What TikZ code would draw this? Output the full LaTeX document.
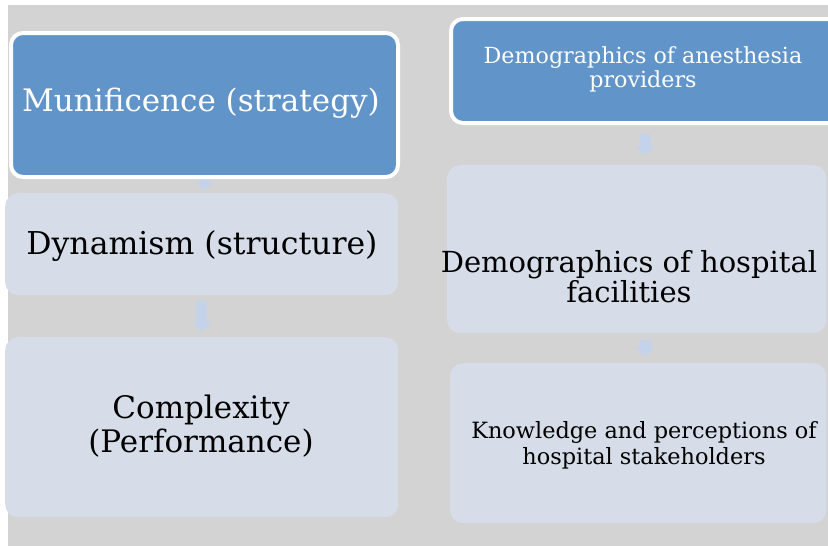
\documentclass[tikz,border=0pt]{standalone}
\usepackage{fontspec}
\setmainfont{DejaVu Serif}
\usetikzlibrary{arrows.meta}
\definecolor{bgc}{HTML}{D3D3D3}
\definecolor{darkbox}{HTML}{6194C8}
\definecolor{lightbox}{HTML}{D6DDE9}
\definecolor{arrowc}{HTML}{C4D3EA}
\tikzset{
  darkstyle/.style={draw=white, line width=4pt, fill=darkbox, rounded corners=12pt,
    inner sep=0pt, anchor=north west},
  lightstyle/.style={fill=lightbox, rounded corners=13pt, inner sep=0pt,
    anchor=north west},
  blockarrow/.style={draw=arrowc, line width=11pt,
    -{Triangle[width=19pt,length=10pt]}},
  smallarrow/.style={draw=arrowc, line width=11pt,
    -{Triangle[width=18pt,length=7pt]}},
  txt/.style={align=center, inner sep=0pt}
}
\newcommand{\fs}[2]{\fontsize{#1}{#2}\selectfont}
\begin{document}
\begin{tikzpicture}[x=1pt,y=-1pt]
\useasboundingbox (0,0) rectangle (828,546);
\fill[bgc] (8,5) rectangle (828,546);
\begin{scope}
\clip (0,0) rectangle (828,546);
% left column
\node[darkstyle, minimum width=387pt, minimum height=144pt] (mun) at (9,31) {};
\node[txt, text=white, font=\fs{31}{34}] (muntxt) at (201,103) {Munificence (strategy)};
\node[lightstyle, minimum width=393pt, minimum height=102pt] (dyn) at (5,193) {};
\node[txt, font=\fs{31.5}{34}] (dyntxt) at (202,246) {Dynamism (structure)};
\node[lightstyle, minimum width=393pt, minimum height=180pt] (comp) at (5,337) {};
\node[txt, font=\fs{31}{34}] (comptxt) at (201,426) {Complexity\\(Performance)};
% right column
\node[darkstyle, minimum width=390pt, minimum height=104pt] (anes) at (449,17) {};
\node[txt, text=white, font=\fs{22.2}{24}] (anestxt) at (643,69) {Demographics of anesthesia\\providers};
\node[lightstyle, minimum width=379pt, minimum height=168pt] (hosp) at (447,165) {};
\node[txt, font=\fs{29}{30}] (hosptxt) at (629,277) {Demographics of hospital\\facilities};
\node[lightstyle, minimum width=376pt, minimum height=160pt] (know) at (450,363) {};
\node[txt, font=\fs{22.4}{26}] (knowtxt) at (644,445) {Knowledge and perceptions of\\hospital stakeholders};
% arrows
\draw[smallarrow, shorten <=1pt, shorten >=3pt] (mun.south) -- (mun.south |- dyn.north);
\draw[blockarrow, shorten <=6pt, shorten >=5pt] (dyn.south) -- (dyn.south |- comp.north);
\draw[blockarrow, shorten <=9pt, shorten >=9pt] ([xshift=-1pt]anes.south) -- ([xshift=-1pt]anes.south |- hosp.north);
\draw[blockarrow, shorten <=7pt, shorten >=6pt] ([xshift=-1pt]anes.south |- hosp.south) -- ([xshift=-1pt]anes.south |- know.north);
\end{scope}
\end{tikzpicture}
\end{document}
